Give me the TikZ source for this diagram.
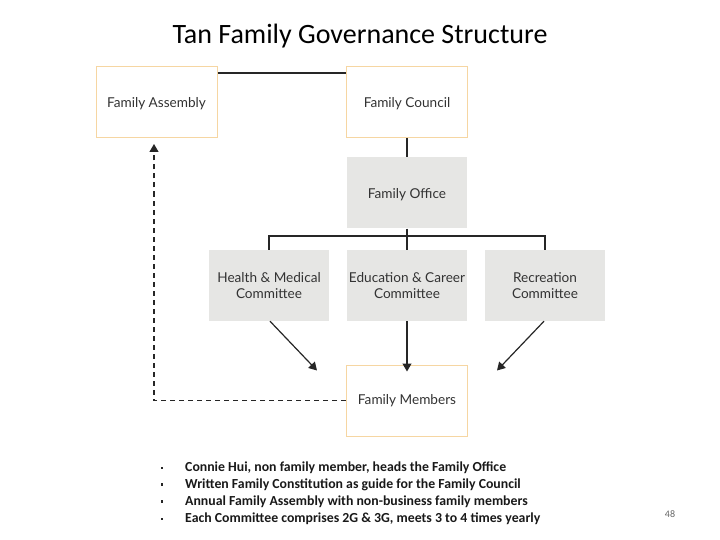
\documentclass[tikz,border=0pt]{standalone}
\usepackage{fontspec}
\setmainfont{Carlito}
\newfontfamily\boxfont{Lato}
\usetikzlibrary{arrows.meta}
\definecolor{orangeline}{HTML}{F6D6A2}
\definecolor{grayfill}{HTML}{E6E6E4}
\tikzset{
  whitebox/.style={draw=orangeline, line width=1pt, fill=white, minimum width=121pt, minimum height=71pt, inner sep=0pt, font=\boxfont\fontsize{13.6}{16.5}\selectfont, text=black!80, align=center},
  graybox/.style={draw=none, fill=grayfill, minimum width=120pt, minimum height=71pt, inner sep=0pt, font=\boxfont\fontsize{13.6}{16.5}\selectfont, text=black!80, align=center},
  conn/.style={draw=black!85, line width=1.2pt},
  arr/.style={conn, -{Triangle[length=8pt,width=9pt]}},
  dasharr/.style={draw=black!85, line width=1.2pt, dash pattern=on 5pt off 4pt, -{Triangle[length=8pt,width=9pt]}},
  bullettext/.style={anchor=west, font=\bfseries\fontsize{13.8}{16}\selectfont, text=black!90, inner sep=0pt},
  bulletdot/.style={fill=black!85, minimum size=2.6pt, inner sep=0pt},
  lbl/.style={inner sep=0pt, font=\boxfont\fontsize{13.6}{16.5}\selectfont, text=black!80, align=center}
}
\begin{document}
\begin{tikzpicture}[x=1pt,y=-1pt]
\useasboundingbox (0,0) rectangle (720,540);
\node (title) at (360,36) {\fontsize{28}{32}\selectfont Tan Family Governance Structure};
\node[whitebox] (assembly) at (156.5,102) {};
\node[lbl] (assemblylbl) at (156.5,104) {Family Assembly};
\node[whitebox] (council) at (407,102) {};
\node[lbl] (councillbl) at (407,104) {Family Council};
\node[graybox] (office) at (407,193) {};
\node[lbl] (officelbl) at (407,194.5) {Family Office};
\node[graybox] (health) at (269,285.5) {Health \& Medical\\Committee};
\node[graybox] (edu) at (407,285.5) {Education \& Career\\Committee};
\node[graybox] (rec) at (545,285.5) {Recreation\\Committee};
\node[whitebox] (members) at (407,400.5) {Family Members};
\coordinate (branch) at (407,236);
\coordinate (dashcorner) at (154,401);
% connectors
\draw[conn] (assembly.north east) ++(0,7) coordinate (aj) -- (aj -| council.west);
\draw[conn] (council.south) -- (office.north);
\draw[conn] (office.south) -- (branch);
\draw[conn] (health.north) |- (branch) -| (rec.north);
\draw[conn] (branch) -- (edu.north);
\draw[arr] ([xshift=1pt]health.south) -- ([xshift=-29pt,yshift=-6pt]members.north west);
\draw[arr] (edu.south) -- ([yshift=-7pt]members.north);
\draw[arr] ([xshift=-1pt]rec.south) -- ([xshift=29pt,yshift=-6pt]members.north east);
\draw[dasharr] (members.west) -| ([yshift=-6pt]assembly.south -| dashcorner);
% bullets
\foreach \y/\t [count=\i] in {468/{Connie Hui, non family member, heads the Family Office},
  484.5/{Written Family Constitution as guide for the Family Council},
  501.5/{Annual Family Assembly with non-business family members},
  519/{Each Committee comprises 2G \& 3G, meets 3 to 4 times yearly}} {
  \node[bullettext] (b\i) at (185,\y) {\t};
  \node[bulletdot] (dot\i) at (162,\y) {};
}
\node[font=\fontsize{10}{12}\selectfont, text=black!60] (page) at (670,514) {48};
\end{tikzpicture}
\end{document}
